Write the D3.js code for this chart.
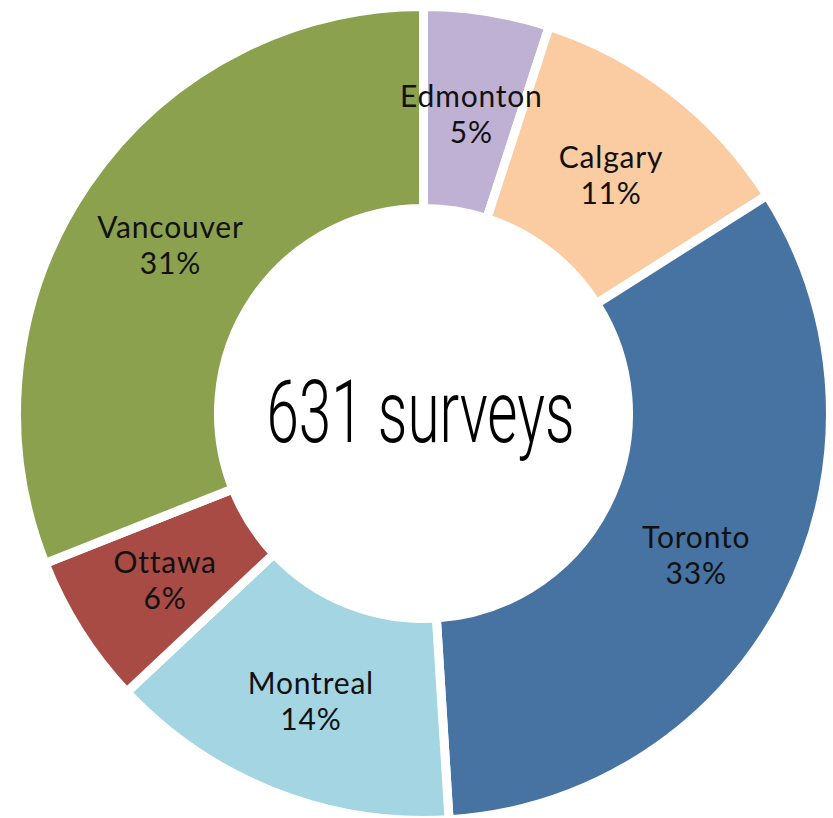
<!DOCTYPE html>
<html>
<head>
<meta charset="utf-8">
<script src="https://cdn.jsdelivr.net/npm/d3@7"></script>
<style>
  html, body { margin: 0; padding: 0; background: #fff; }
  svg { display: block; }
</style>
</head>
<body>
<svg id="chart" width="833" height="818"></svg>
<script>
// Survey responses by city (share of 631 surveys, %)
const cities = ["Edmonton", "Calgary", "Toronto", "Montreal", "Ottawa", "Vancouver"];
const shares = [5, 11, 33, 14, 6, 31];
const colors = ["#BFB1D3", "#FBCBA1", "#4673A1", "#A4D5E3", "#A84B44", "#8BA14D"];
const totalLabel = "631 surveys";

const width = 833, height = 818;
const cx = 423.5, cy = 413.5;
const outerR = 407, innerR = 205, gap = 9;

const svg = d3.select("#chart");
const g = svg.append("g").attr("transform", `translate(${cx},${cy})`);

const data = cities.map((c, i) => ({ city: c, value: shares[i], color: colors[i] }));

const pie = d3.pie().value(d => d.value).sort(null);
const arc = d3.arc().innerRadius(innerR).outerRadius(outerR);
const labelArc = d3.arc().innerRadius(306).outerRadius(306);

const arcs = pie(data);

g.selectAll("path.slice")
  .data(arcs)
  .join("path")
  .attr("class", "slice")
  .attr("d", arc)
  .attr("fill", d => d.data.color)
  .attr("stroke", "#fff")
  .attr("stroke-width", gap)
  .attr("stroke-linejoin", "miter");

const labels = g.selectAll("text.lbl")
  .data(arcs)
  .join("text")
  .attr("class", "lbl")
  .attr("text-anchor", "middle")
  .attr("font-family", "Lato, 'Open Sans', sans-serif")
  .attr("font-size", 30)
  .attr("letter-spacing", 0.8)
  .attr("fill", "#111")
  .attr("transform", d => {
    const [x, y] = labelArc.centroid(d);
    return `translate(${x},${y})`;
  });

labels.append("tspan").attr("x", 0).attr("y", -4).text(d => d.data.city);
labels.append("tspan").attr("x", 0).attr("y", 32).text(d => d.data.value + "%");

// total in the hole
g.append("text")
  .attr("text-anchor", "middle")
  .attr("x", -3)
  .attr("y", 28)
  .attr("font-family", "Roboto, sans-serif")
  .attr("font-weight", 300)
  .attr("font-size", 88)
  .attr("fill", "#000")
  .attr("textLength", 308)
  .attr("lengthAdjust", "spacingAndGlyphs")
  .text(totalLabel);
</script>
</body>
</html>
